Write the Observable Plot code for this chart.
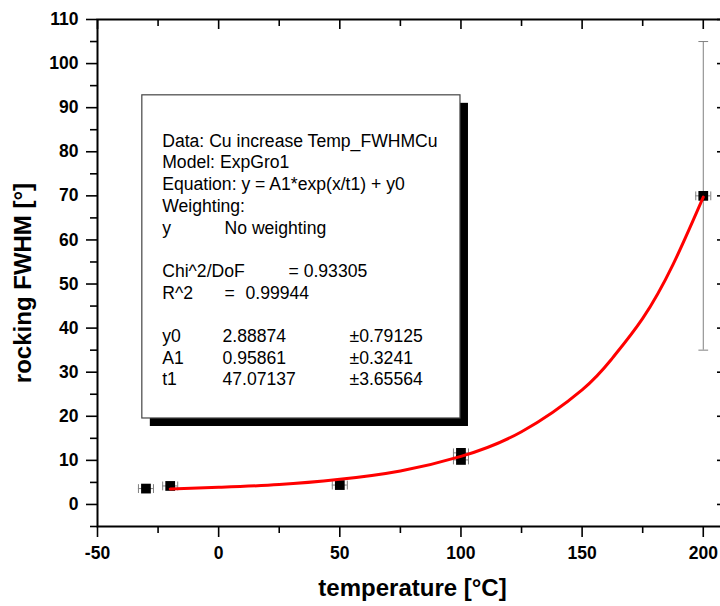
<!DOCTYPE html>
<html><head><meta charset="utf-8">
<script src="https://cdn.jsdelivr.net/npm/d3@7"></script>
<script src="https://cdn.jsdelivr.net/npm/@observablehq/plot@0.6"></script>
<style>
html,body{margin:0;padding:0;background:#fff;overflow:hidden;}
#chart{width:720px;height:606px;overflow:hidden;}
</style></head><body><div id="chart"></div>
<script>
// ---- data ----
const temperature = [-30, -20, 50, 100, 100, 200];
const fwhm        = [3.6, 4.2, 4.4, 10.1, 11.7, 70];
const tempErr     = [3.1, 3.1, 3.1, 3.1, 3.1, 3.1];
const fwhmErr     = [0, 0, 0, 0, 0, 35];

const fitTemp = [-20, 0, 25, 50, 75, 100, 125, 150, 162.5, 175, 187.5, 200];
const fitFwhm = [3.5, 3.9, 4.5, 5.7, 7.6, 10.9, 16.5, 26.0, 33.2, 42.2, 54.4, 69.7];

const xTicks = [-50, 0, 50, 100, 150, 200];
const xMinor = [-25, 25, 75, 125, 175];
const yTicks = [0, 10, 20, 30, 40, 50, 60, 70, 80, 90, 100, 110];
const yMinor = [-5, 5, 15, 25, 35, 45, 55, 65, 75, 85, 95, 105];

const xTitle = "temperature [°C]";
const yTitle = "rocking FWHM [°]";

const boxHeader = ["Data: Cu increase Temp_FWHMCu", "Model: ExpGro1",
  "Equation: y = A1*exp(x/t1) + y0", "Weighting:"];
const weightRow = ["y", "No weighting"];
const chiRow = ["Chi^2/DoF", "= 0.93305"];
const r2Row = ["R^2", "=", "0.99944"];
const paramNames = ["y0", "A1", "t1"];
const paramValues = ["2.88874", "0.95861", "47.07137"];
const paramErrors = ["±0.79125", "±0.3241", "±3.65564"];

// ---- build ----
const points = temperature.map((t, i) => ({t, v: fwhm[i], te: tempErr[i], ve: fwhmErr[i]}));
const fit = fitTemp.map((t, i) => ({t, v: fitFwhm[i]}));
const vErr = points.filter(d => d.ve > 0);

const ML = 97, MT = 19, MR = -7, MB = 80, W = 720, H = 606;
const frameW = W - MR - ML, frameH = H - MB - MT;

const vCap = {draw(ctx, size) { const h = Math.sqrt(size) / 2; ctx.moveTo(0, -h); ctx.lineTo(0, h); }};
const hCap = {draw(ctx, size) { const h = Math.sqrt(size) / 2; ctx.moveTo(-h, 0); ctx.lineTo(h, 0); }};

const font = "'Liberation Sans', Arial, sans-serif";
const boxFs = 17.6;
const row0 = 140.6, rowStep = 21.7;
const segs = [];
boxHeader.forEach((s, i) => segs.push({r: i, c: 161.7, s}));
segs.push({r: 4, c: 161.7, s: weightRow[0]}, {r: 4, c: 224, s: weightRow[1]});
segs.push({r: 6, c: 161.7, s: chiRow[0]}, {r: 6, c: 288, s: chiRow[1]});
segs.push({r: 7, c: 161.7, s: r2Row[0]}, {r: 7, c: 224, s: r2Row[1]}, {r: 7, c: 245, s: r2Row[2]});
paramNames.forEach((s, i) => {
  segs.push({r: 9 + i, c: 161.7, s}, {r: 9 + i, c: 222, s: paramValues[i]}, {r: 9 + i, c: 349, s: paramErrors[i]});
});
const textMarks = segs.map(g => Plot.text([g.s], {
  frameAnchor: "top-left", dx: g.c - ML, dy: row0 + g.r * rowStep - MT,
  textAnchor: "start", lineAnchor: "middle", fontSize: boxFs, fill: "#000"
}));

const box = [{x1: -31.5, x2: 99.8, y1: 19.5, y2: 92.8}];
const fmt = d => String(d);

const chart = Plot.plot({
  width: W, height: H,
  marginLeft: ML, marginRight: MR, marginTop: MT, marginBottom: MB,
  style: {fontFamily: font, background: "#fff", overflow: "hidden"},
  x: {domain: [-50, 210]},
  y: {domain: [-5, 110]},
  marks: [
    // axes
    Plot.axisX(xTicks, {tickSize: 11, tickPadding: 9, tickFormat: fmt, fontSize: 17.5, fontWeight: "bold", strokeWidth: 1.6, label: null, fill: "#000"}),
    Plot.axisX(xMinor, {tickSize: 7, tickFormat: () => "", strokeWidth: 1.6, label: null}),
    Plot.axisY(yTicks, {tickSize: 11, tickPadding: 8, tickFormat: fmt, fontSize: 17.5, fontWeight: "bold", strokeWidth: 1.6, label: null, fill: "#000"}),
    Plot.axisY(yMinor, {tickSize: 7, tickFormat: () => "", strokeWidth: 1.6, label: null}),
    Plot.tickX(xTicks, {x: d => d, insetBottom: frameH - 10, strokeWidth: 1.6}),
    Plot.tickX(xMinor, {x: d => d, insetBottom: frameH - 7, strokeWidth: 1.6}),
    Plot.tickY(yTicks, {y: d => d, insetLeft: frameW - 10, strokeWidth: 1.6}),
    Plot.tickY(yMinor, {y: d => d, insetLeft: frameW - 7, strokeWidth: 1.6}),
    Plot.frame({stroke: "#000", strokeWidth: 2}),
    Plot.text([xTitle], {frameAnchor: "bottom", dy: 62, textAnchor: "middle", lineAnchor: "middle", fontSize: 24, fontWeight: "bold", fill: "#000"}),
    Plot.text([yTitle], {frameAnchor: "left", dx: -74, dy: 10, rotate: -90, textAnchor: "middle", lineAnchor: "middle", fontSize: 24, fontWeight: "bold", fill: "#000"}),
    // annotation box
    Plot.rect(box, {x1: "x1", x2: "x2", y1: "y1", y2: "y2", fill: "#000", dx: 8, dy: 8}),
    Plot.rect(box, {x1: "x1", x2: "x2", y1: "y1", y2: "y2", fill: "#fff", stroke: "#444", strokeWidth: 1.2}),
    ...textMarks,
    // error bars
    Plot.ruleY(points, {y: "v", x1: d => d.t - d.te, x2: d => d.t + d.te, stroke: "#808080", strokeWidth: 1}),
    Plot.dot(points, {x: d => d.t - d.te, y: "v", symbol: vCap, r: 5, stroke: "#808080", strokeWidth: 1, fill: "none"}),
    Plot.dot(points, {x: d => d.t + d.te, y: "v", symbol: vCap, r: 5, stroke: "#808080", strokeWidth: 1, fill: "none"}),
    Plot.ruleX(vErr, {x: "t", y1: d => d.v - d.ve, y2: d => d.v + d.ve, stroke: "#808080", strokeWidth: 1}),
    Plot.dot(vErr, {x: "t", y: d => d.v - d.ve, symbol: hCap, r: 5.5, stroke: "#808080", strokeWidth: 1, fill: "none"}),
    Plot.dot(vErr, {x: "t", y: d => d.v + d.ve, symbol: hCap, r: 5.5, stroke: "#808080", strokeWidth: 1, fill: "none"}),
    // points
    Plot.dot(points, {x: "t", y: "v", symbol: "square", r: 5.5, fill: "#000", stroke: "none"}),
    // fit curve
    Plot.line(fit, {x: "t", y: "v", stroke: "#ff0000", strokeWidth: 3, curve: "natural"})
  ]
});
document.getElementById("chart").appendChild(chart);
</script>
</body></html>
